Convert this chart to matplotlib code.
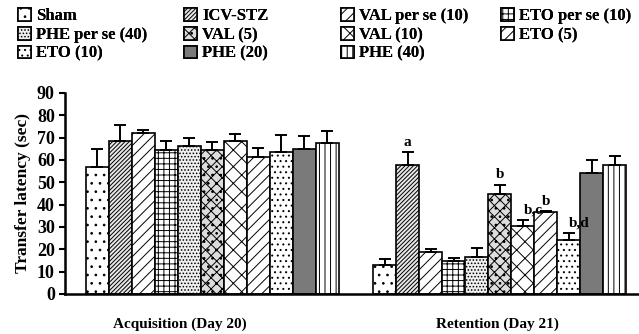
import numpy as np
import matplotlib
matplotlib.use('Agg')
import matplotlib.pyplot as plt

plt.rcParams['font.family'] = ['Liberation Serif', 'DejaVu Serif']
plt.rcParams['font.weight'] = 'bold'
plt.rcParams['hatch.linewidth'] = 0.7

groups = ['Sham', 'ICV-STZ', 'VAL per se (10)', 'ETO per se (10)',
          'PHE per se (40)', 'VAL (5)', 'VAL (10)', 'ETO (5)',
          'ETO (10)', 'PHE (20)', 'PHE (40)']
acq_mean = [57, 68.3, 72, 64.6, 66, 64.6, 68.3, 61.3, 63.4, 64.9, 67.6]
acq_err = [8, 7.5, 1.5, 3.7, 4, 3.5, 3.4, 4, 7.6, 5.6, 5.2]
ret_mean = [13, 57.8, 18.7, 14.8, 16.7, 44.8, 30.2, 36.5, 24.2, 54.1, 57.8]
ret_err = [2.7, 5.6, 1.5, 1.2, 3.8, 4.1, 3.0, 0.6, 3.0, 5.7, 4.1]
ret_marks = ['', 'a', '', '', '', 'b', 'b,c', 'b', 'b,d', '', '']
session_labels = ['Acquisition (Day 20)', 'Retention (Day 21)']

faces = ['white', '#e8e8e8', 'white', 'white', '#eeeeee', '#dddddd',
         'white', 'white', 'white', '#7a7a7a', 'white']
hatches = ['..', '////////', '///', '+++', '.....', 'xxx..', 'xx', '///',
           '...', '', '|||']

fig = plt.figure(figsize=(6.39, 3.34), dpi=100)
ax = fig.add_axes([0.102, 0.12, 0.896, 0.602])

x1 = np.arange(len(groups))
x2 = x1 + 12.5
handles = []
for i in range(len(groups)):
    b = ax.bar(x1[i], acq_mean[i], width=1.0, color=faces[i], hatch=hatches[i],
               edgecolor='black', linewidth=1.2, label=groups[i])
    ax.bar(x2[i], ret_mean[i], width=1.0, color=faces[i], hatch=hatches[i],
           edgecolor='black', linewidth=1.2)
    handles.append(b)

ax.errorbar(x1, acq_mean, yerr=[np.zeros(len(groups)), acq_err], fmt='none',
            ecolor='black', elinewidth=1.4, capsize=4, capthick=1.4)
ax.errorbar(x2, ret_mean, yerr=[np.zeros(len(groups)), ret_err], fmt='none',
            ecolor='black', elinewidth=1.4, capsize=4, capthick=1.4)

for i, m in enumerate(ret_marks):
    if m:
        dx = 0.45 if ',' in m else 0
        ax.text(x2[i] + dx, ret_mean[i] + ret_err[i] + 1.5, m, ha='center',
                va='bottom', fontsize=11, fontweight='bold')

ax.set_xlim(-1.4, 23.5)
ax.set_ylim(0, 90)
ax.set_yticks(range(0, 91, 10))
ax.set_xticks([])
ax.tick_params(axis='y', labelsize=13, width=1.5, length=4)
for lbl in ax.get_yticklabels():
    lbl.set_fontweight('bold')
ax.spines['top'].set_visible(False)
ax.spines['right'].set_visible(False)
ax.spines['left'].set_linewidth(1.8)
ax.spines['bottom'].set_linewidth(1.8)
ax.set_ylabel('Transfer latency (sec)', fontsize=12.5, fontweight='bold')

ax.text(3.6, -10.5, session_labels[0], ha='center', va='top', fontsize=11,
        fontweight='bold')
ax.text(17.4, -10.5, session_labels[1], ha='center', va='top', fontsize=11,
        fontweight='bold')

# legend reads row by row; one legend per column so columns sit where they should
col_x = [0.012, 0.272, 0.518, 0.768]
for c in range(4):
    idx = list(range(c, len(groups), 4))
    leg = fig.legend(handles=[handles[k] for k in idx],
                     labels=[groups[k] for k in idx], loc='upper left',
                     bbox_to_anchor=(col_x[c], 1.005), ncol=1, frameon=False,
                     fontsize=12, handlelength=0.8, handleheight=0.8,
                     handletextpad=0.3, labelspacing=0.15, borderaxespad=0.2)
    fig.add_artist(leg)

fig.savefig('out.png', dpi=100)
